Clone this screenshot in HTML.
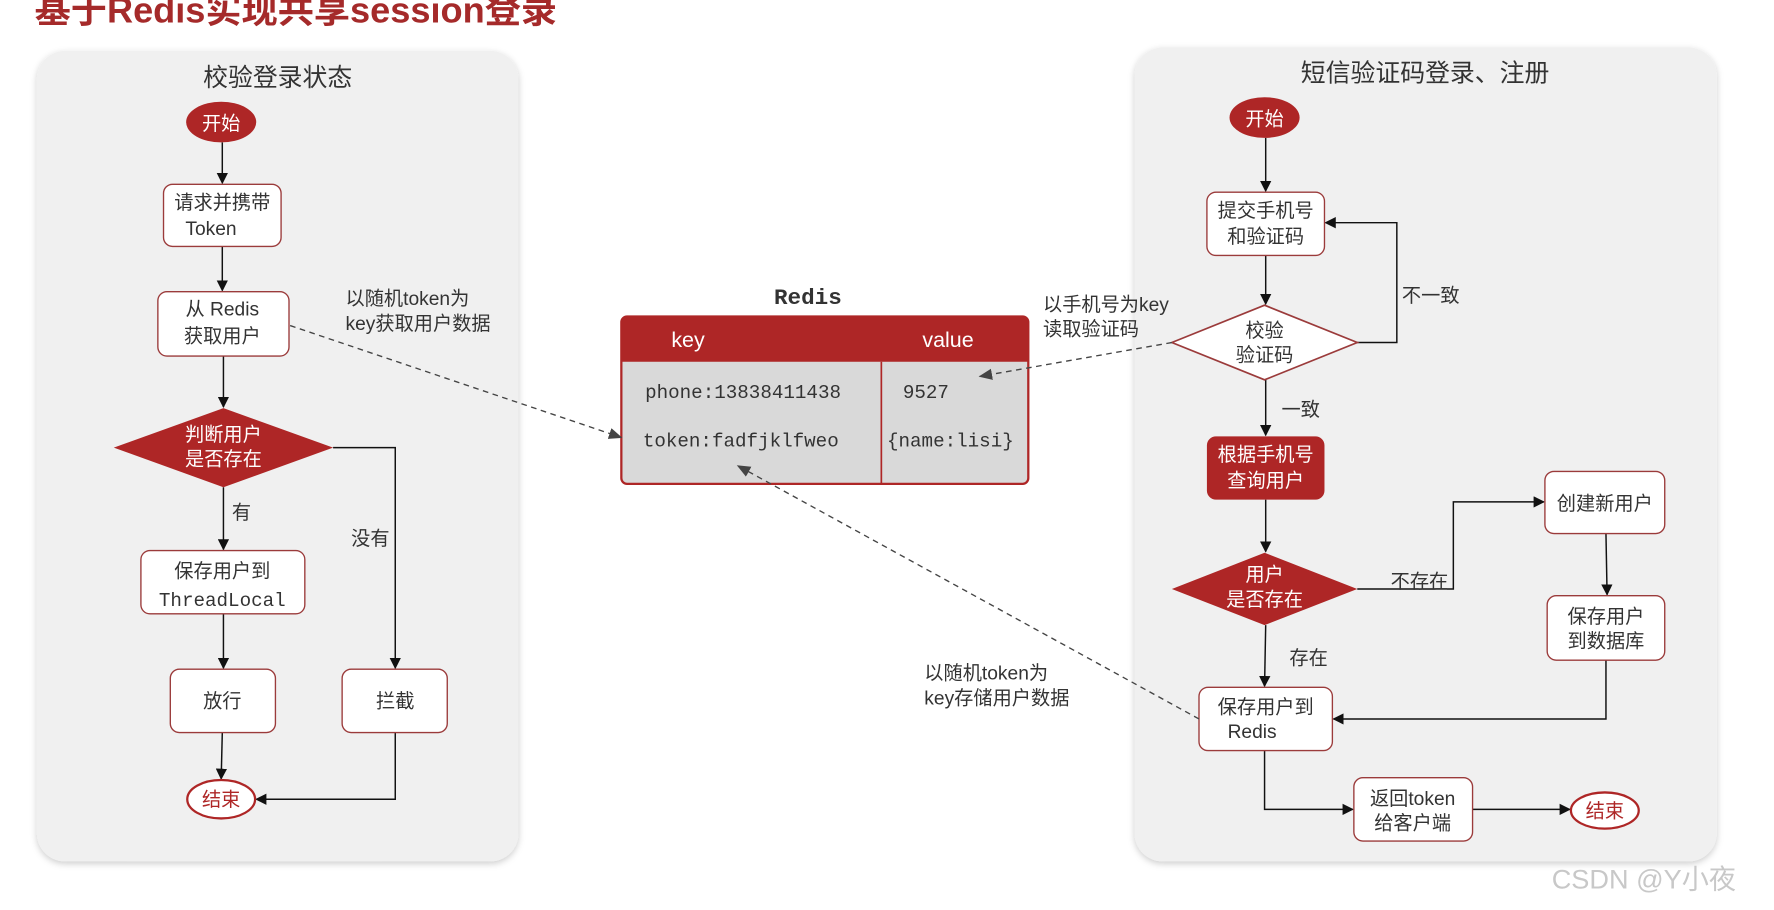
<!DOCTYPE html>
<html><head><meta charset="utf-8"><style>
html,body{margin:0;padding:0;background:#fff;width:1774px;height:910px;overflow:hidden}
svg{display:block}
text{font-family:"Liberation Sans","Noto Sans CJK SC",sans-serif;fill:#333}
.m{font-family:"Liberation Mono","Noto Sans CJK SC",monospace}
</style></head><body>
<svg width="1774" height="910" viewBox="0 0 1568 805" xmlns="http://www.w3.org/2000/svg">
<defs>
<marker id="a" markerWidth="10" markerHeight="10" refX="9" refY="5" orient="auto" markerUnits="userSpaceOnUse"><path d="M0,0 L10,5 L0,10 z" fill="#111"/></marker>
<marker id="g" markerWidth="12" markerHeight="10" refX="11" refY="5" orient="auto" markerUnits="userSpaceOnUse"><path d="M0,0 L12,5 L0,10 z" fill="#444"/></marker>
<filter id="s" x="-5%" y="-5%" width="110%" height="110%"><feDropShadow dx="0" dy="2" stdDeviation="3" flood-color="#000" flood-opacity="0.2"/></filter>
</defs>
<text x="30" y="20" font-size="32" font-weight="bold" style="fill:#a52a2a">基于Redis实现共享session登录</text>

<!-- left panel -->
<rect x="32" y="45" width="426" height="717" rx="25" fill="#f0f0f0" filter="url(#s)"/>
<text x="245" y="76" font-size="22" text-anchor="middle">校验登录状态</text>
<ellipse cx="195" cy="108" rx="31" ry="18" fill="#ae2626"/>
<text x="195" y="115" font-size="17" text-anchor="middle" style="fill:#fff">开始</text>
<g stroke="#111" stroke-width="1.3" fill="none">
<line x1="196" y1="126" x2="196" y2="162" marker-end="url(#a)"/>
<line x1="196" y1="218" x2="196" y2="257" marker-end="url(#a)"/>
<line x1="197" y1="315" x2="197" y2="360" marker-end="url(#a)"/>
<line x1="197" y1="431" x2="197" y2="486" marker-end="url(#a)"/>
<line x1="197" y1="543" x2="197" y2="591" marker-end="url(#a)"/>
<line x1="196" y1="648" x2="195" y2="689" marker-end="url(#a)"/>
<polyline points="294,396 349,396 349,591" marker-end="url(#a)"/>
<polyline points="349,648 349,707 226,707" marker-end="url(#a)"/>
</g>
<g fill="#fff" stroke="#9b3b3b" stroke-width="1.2">
<rect x="144" y="163" width="104" height="55" rx="8"/>
<rect x="139" y="258" width="116" height="57" rx="8"/>
<rect x="124" y="487" width="145" height="56" rx="8"/>
<rect x="150" y="592" width="93" height="56" rx="8"/>
<rect x="302" y="592" width="93" height="56" rx="8"/>
</g>
<polygon points="100,396 197,361 294,396 197,431" fill="#ae2626"/>
<text font-size="17" text-anchor="middle"><tspan x="196" y="185">请求并携带</tspan><tspan x="186" y="208">Token</tspan></text>
<text font-size="17" text-anchor="middle"><tspan x="196" y="279">从 Redis</tspan><tspan x="196" y="303">获取用户</tspan></text>
<text font-size="17" text-anchor="middle" style="fill:#fff"><tspan x="197" y="390">判断用户</tspan><tspan x="197" y="412">是否存在</tspan></text>
<text x="213" y="459" font-size="17" text-anchor="middle">有</text>
<text x="327" y="482" font-size="17" text-anchor="middle">没有</text>
<text font-size="17" text-anchor="middle"><tspan x="196" y="511">保存用户到</tspan><tspan x="196" y="536" class="m">ThreadLocal</tspan></text>
<text x="196" y="626" font-size="17" text-anchor="middle">放行</text>
<text x="349" y="626" font-size="17" text-anchor="middle">拦截</text>
<ellipse cx="195" cy="707" rx="30" ry="17" fill="#fff" stroke="#ae2626" stroke-width="2"/>
<text x="195" y="713" font-size="17" text-anchor="middle" style="fill:#ae2626">结束</text>

<!-- redis -->
<text x="714" y="269" font-size="20" font-weight="bold" text-anchor="middle" class="m">Redis</text>
<rect x="549" y="280" width="360" height="148" rx="5" fill="#d9d9d9" stroke="#ae2626" stroke-width="2"/>
<path d="M549,320 L549,285 Q549,280 554,280 L904,280 Q909,280 909,285 L909,320 z" fill="#ae2626"/>
<line x1="779" y1="320" x2="779" y2="428" stroke="#ae2626" stroke-width="1.5"/>
<text x="608" y="307" font-size="19" text-anchor="middle" style="fill:#fff">key</text>
<text x="838" y="307" font-size="19" text-anchor="middle" style="fill:#fff">value</text>
<text x="570" y="352" font-size="17" class="m">phone:13838411438</text>
<text x="798" y="352" font-size="17" class="m">9527</text>
<text x="568" y="395" font-size="17" class="m">token:fadfjklfweo</text>
<text x="784" y="395" font-size="17" class="m">{name:lisi}</text>

<!-- right panel -->
<rect x="1003" y="42" width="515" height="720" rx="25" fill="#f0f0f0" filter="url(#s)"/>
<text x="1260" y="72" font-size="22" text-anchor="middle">短信验证码登录、注册</text>
<ellipse cx="1118" cy="104" rx="31" ry="18" fill="#ae2626"/>
<text x="1118" y="111" font-size="17" text-anchor="middle" style="fill:#fff">开始</text>
<g stroke="#111" stroke-width="1.3" fill="none">
<line x1="1119" y1="122" x2="1119" y2="169" marker-end="url(#a)"/>
<line x1="1119" y1="226" x2="1119" y2="269" marker-end="url(#a)"/>
<polyline points="1200,303 1235,303 1235,197 1172,197" marker-end="url(#a)"/>
<line x1="1119" y1="336" x2="1119" y2="385" marker-end="url(#a)"/>
<line x1="1119" y1="442" x2="1119" y2="488" marker-end="url(#a)"/>
<polyline points="1200,521 1285,521 1285,444 1365,444" marker-end="url(#a)"/>
<line x1="1420" y1="472" x2="1421" y2="526" marker-end="url(#a)"/>
<polyline points="1420,584 1420,636 1179,636" marker-end="url(#a)"/>
<line x1="1119" y1="553" x2="1118" y2="607" marker-end="url(#a)"/>
<polyline points="1118,664 1118,716 1196,716" marker-end="url(#a)"/>
<line x1="1302" y1="716" x2="1388" y2="716" marker-end="url(#a)"/>
</g>
<g fill="#fff" stroke="#9b3b3b" stroke-width="1.2">
<rect x="1067" y="170" width="104" height="56" rx="8"/>
<rect x="1366" y="417" width="106" height="55" rx="8"/>
<rect x="1368" y="527" width="104" height="57" rx="8"/>
<rect x="1060" y="608" width="118" height="56" rx="8"/>
<rect x="1197" y="688" width="105" height="56" rx="8"/>
</g>
<polygon points="1036,303 1118,270 1200,303 1118,336" fill="#fff" stroke="#9b3b3b" stroke-width="1.5"/>
<rect x="1067" y="386" width="104" height="56" rx="8" fill="#ae2626"/>
<polygon points="1036,521 1118,489 1200,521 1118,553" fill="#ae2626"/>
<text font-size="17" text-anchor="middle"><tspan x="1119" y="192">提交手机号</tspan><tspan x="1119" y="215">和验证码</tspan></text>
<text font-size="17" text-anchor="middle"><tspan x="1118" y="298">校验</tspan><tspan x="1118" y="320">验证码</tspan></text>
<text x="1265" y="267" font-size="17" text-anchor="middle">不一致</text>
<text x="1150" y="368" font-size="17" text-anchor="middle">一致</text>
<text font-size="17" text-anchor="middle" style="fill:#fff"><tspan x="1119" y="408">根据手机号</tspan><tspan x="1119" y="431">查询用户</tspan></text>
<text font-size="17" text-anchor="middle" style="fill:#fff"><tspan x="1118" y="514">用户</tspan><tspan x="1118" y="536">是否存在</tspan></text>
<text x="1255" y="520" font-size="17" text-anchor="middle">不存在</text>
<text x="1157" y="588" font-size="17" text-anchor="middle">存在</text>
<text x="1419" y="451" font-size="17" text-anchor="middle">创建新用户</text>
<text font-size="17" text-anchor="middle"><tspan x="1420" y="551">保存用户</tspan><tspan x="1420" y="573">到数据库</tspan></text>
<text font-size="17" text-anchor="middle"><tspan x="1119" y="631">保存用户到</tspan><tspan x="1107" y="653">Redis</tspan></text>
<text font-size="17" text-anchor="middle"><tspan x="1249" y="712">返回token</tspan><tspan x="1249" y="734">给客户端</tspan></text>
<ellipse cx="1419" cy="717" rx="30" ry="16" fill="#fff" stroke="#ae2626" stroke-width="2"/>
<text x="1419" y="723" font-size="17" text-anchor="middle" style="fill:#ae2626">结束</text>

<!-- dashed connectors on top -->
<g stroke="#444" stroke-width="1.2" stroke-dasharray="5,4" fill="none">
<line x1="256" y1="288" x2="549" y2="387" marker-end="url(#g)"/>
<line x1="1036" y1="303" x2="866" y2="333" marker-end="url(#g)"/>
<line x1="1060" y1="636" x2="652" y2="412" marker-end="url(#g)"/>
</g>
<text font-size="17"><tspan x="305" y="270">以随机token为</tspan><tspan x="305" y="292">key获取用户数据</tspan></text>
<text font-size="17"><tspan x="922" y="275">以手机号为key</tspan><tspan x="922" y="297">读取验证码</tspan></text>
<text font-size="17"><tspan x="817" y="601">以随机token为</tspan><tspan x="817" y="623">key存储用户数据</tspan></text>

<text x="1372" y="786" font-size="24" style="fill:#c8c8c8">CSDN @Y小夜</text>
</svg>
</body></html>
